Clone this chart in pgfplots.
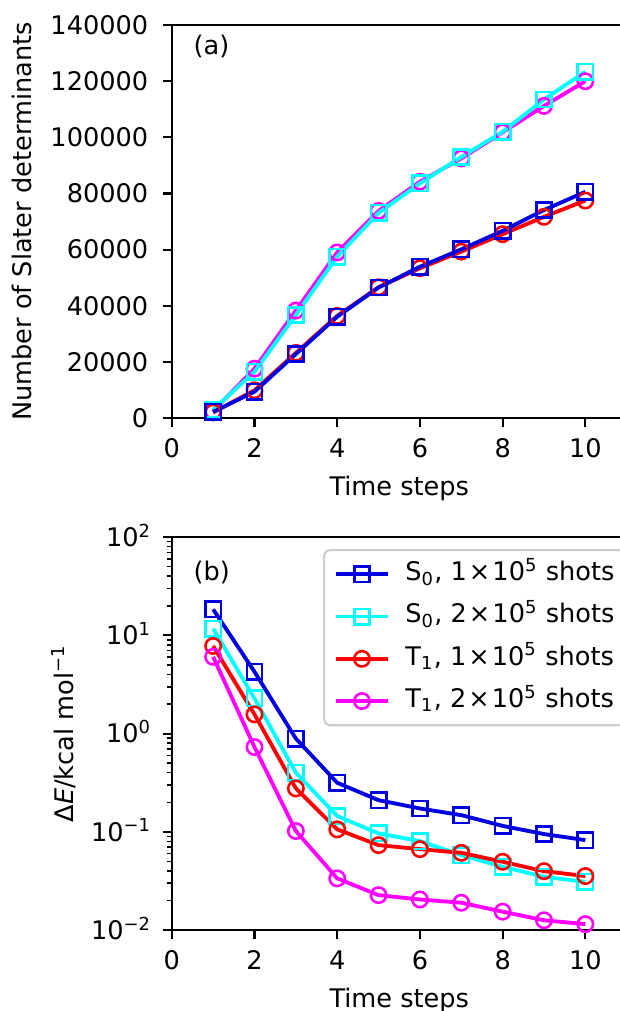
\documentclass[border=0pt,10pt]{standalone}
\usepackage{fontspec}
\setmainfont{DejaVu Sans}
\usepackage{pgfplots}
\pgfplotsset{compat=1.18}
\usepackage{pgfplotstable}

\definecolor{cB}{RGB}{0,0,225}
\definecolor{cC}{RGB}{0,255,255}
\definecolor{cR}{RGB}{255,0,0}
\definecolor{cM}{RGB}{255,0,255}

% number of Slater determinants per time step
\pgfplotstableread{
x  s0a    s0b    t1a    t1b
1  2200   3000   2000   2500
2  9400   16500  9900   17600
3  22800  36700  23200  38300
4  36100  57500  36400  59000
5  46500  73100  46600  73800
6  53900  83600  53400  84200
7  60100  93000  59300  92500
8  66700  102000 65500  101800
9  74100  113500 71700  111200
10 80600  123400 77500  120000
}\ndets

% energy error (kcal/mol)
\pgfplotstableread{
x  s0a    s0b    t1a    t1b
1  18.4   11.7   7.8    6.05
2  4.26   2.28   1.57   0.73
3  0.89   0.40   0.277  0.102
4  0.316  0.145  0.106  0.0336
5  0.21   0.0964 0.0733 0.0227
6  0.173  0.0805 0.0667 0.0205
7  0.148  0.058  0.0612 0.019
8  0.115  0.0441 0.0496 0.0154
9  0.095  0.0349 0.0398 0.0126
10 0.0824 0.0310 0.0355 0.0115
}\derr

\newcommand{\shots}[2]{#1, #2\kern0.8pt×\kern0.8pt10\textsuperscript{5} shots}

\pgfplotsset{
  panel/.style={
    scale only axis, width=177.7pt, height=153.5pt,
    xmin=0, xmax=11, xtick={0,2,...,10},
    tick align=outside, tick pos=left,
    major tick length=3.5pt, minor tick length=2pt,
    axis line style={line width=0.8pt},
    every tick/.style={black, line width=0.8pt},
    every minor tick/.style={black, line width=0.6pt},
    /pgf/number format/assume math mode=true,
    xticklabel style={anchor=north, inner sep=0pt, yshift=-4.3pt},
    every axis x label/.style={at={(axis description cs:0.5,0)}, anchor=north, inner sep=0pt, yshift=-22.5pt},
    xlabel={Time steps},
    every axis plot/.append style={line width=1.5pt, mark size=3pt, mark options={solid, line width=1pt}},
  },
}

\begin{document}
\begin{tikzpicture}
\begin{axis}[panel,
  at={(0,0)}, anchor=south west,
  ymin=0, ymax=140000, ytick={0,20000,...,140000},
  scaled y ticks=false,
  yticklabel style={anchor=east, inner sep=0pt, xshift=-5.5pt,
    /pgf/number format/fixed, /pgf/number format/1000 sep={}},
  every axis y label/.style={at={([xshift=-54.6pt]axis description cs:0,0.5)}, anchor=base, rotate=90, inner sep=0pt},
  ylabel={Number of Slater determinants},
]
\addplot[cM, mark=o] table[x=x, y=t1b] {\ndets};
\addplot[cR, mark=o] table[x=x, y=t1a] {\ndets};
\addplot[cC, mark=square] table[x=x, y=s0b] {\ndets};
\addplot[cB, mark=square] table[x=x, y=s0a] {\ndets};
\node[anchor=north west, inner sep=0pt] at (rel axis cs:0.0468,0.9746) {(a)};
\end{axis}

\begin{axis}[panel,
  at={(0,-200pt)}, anchor=south west,
  ymode=log, ymin=1e-2, ymax=1e2,
  ytick={1e-2,1e-1,1,1e1,1e2},
  yticklabels={10\textsuperscript{−2},10\textsuperscript{−1},10\textsuperscript{0},10\textsuperscript{1},10\textsuperscript{2}},
  minor ytick={0.02,0.03,0.04,0.05,0.06,0.07,0.08,0.09,0.2,0.3,0.4,0.5,0.6,0.7,0.8,0.9,2,3,4,5,6,7,8,9,20,30,40,50,60,70,80,90},
  yticklabel style={anchor=base east, inner sep=0pt, xshift=-4.3pt, yshift=-3.65pt},
  every axis y label/.style={at={([xshift=-38.2pt]axis description cs:0,0.5)}, anchor=base, rotate=90, inner sep=0pt},
  ylabel={Δ\textit{E}/kcal mol\textsuperscript{−1}},
  legend cell align=left,
  legend image code/.code={\draw[mark repeat=2, mark phase=2] plot coordinates {(0cm,0cm) (0.36cm,0cm) (0.72cm,0cm)};
    \path (0.72cm+6pt,0cm);},
  legend style={at={(rel axis cs:0.3325,0.9695)}, anchor=north west,
    draw=black!20, line width=0.8pt, rounded corners=2.5pt,
    fill=white, fill opacity=0.8, text opacity=1,
    inner xsep=3.8pt, inner ysep=4.45pt, row sep=6.5pt,
    nodes={inner xsep=0pt, inner ysep=0pt, text height=7.5pt, text depth=2.5pt}},
]
\addplot[cB, mark=square] table[x=x, y=s0a] {\derr};
\addlegendentry{\shots{S\textsubscript{0}}{1}}
\addplot[cC, mark=square] table[x=x, y=s0b] {\derr};
\addlegendentry{\shots{S\textsubscript{0}}{2}}
\addplot[cR, mark=o] table[x=x, y=t1a] {\derr};
\addlegendentry{\shots{T\textsubscript{1}}{1}}
\addplot[cM, mark=o] table[x=x, y=t1b] {\derr};
\addlegendentry{\shots{T\textsubscript{1}}{2}}
\node[anchor=north west, inner sep=0pt] at (rel axis cs:0.0468,0.9415) {(b)};
\end{axis}

\pgfresetboundingbox
\path[use as bounding box] (-67.1pt,-231.6pt) rectangle (174.7pt,163.3pt);
\end{tikzpicture}
\end{document}
